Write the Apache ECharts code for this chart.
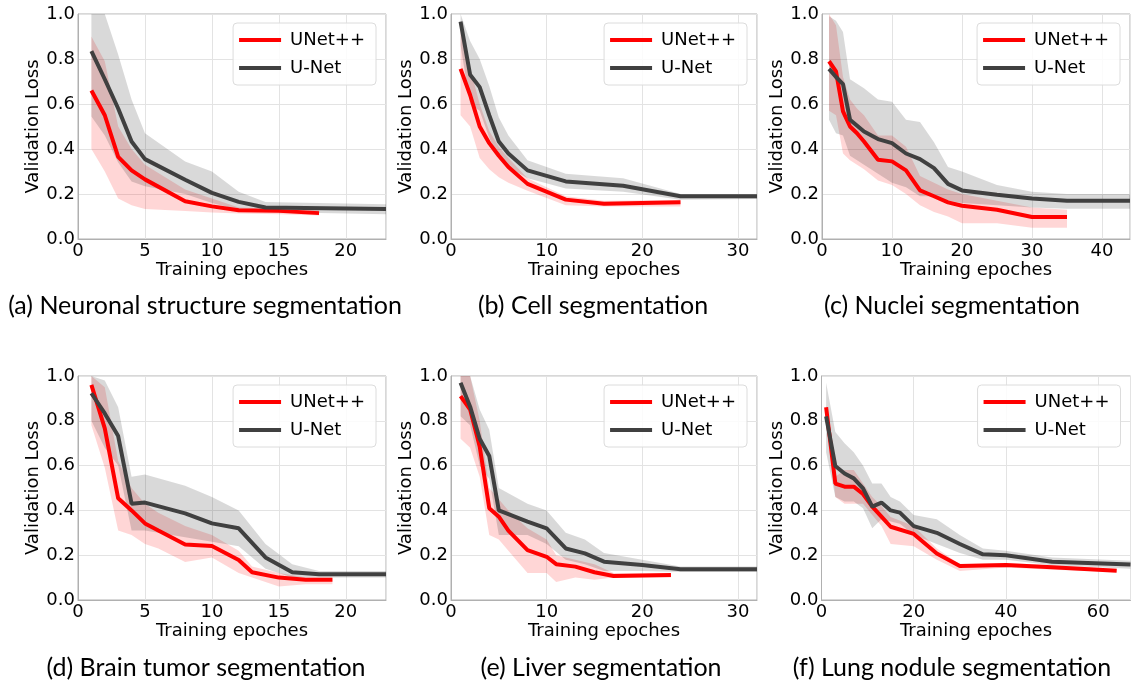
<!DOCTYPE html>
<html>
<head>
<meta charset="utf-8">
<script src="https://cdn.jsdelivr.net/npm/echarts@6/dist/echarts.min.js"></script>
<style>
  html, body { margin: 0; padding: 0; background: #fff; }
  #main { width: 1131px; height: 683px; }
</style>
</head>
<body>
<div id="main"></div>
<script>
// ---- data ----
// (a) Neuronal structure
const aPlusX  = [1, 2, 3, 4, 5, 8, 10, 12, 15, 18]
const aPlus   = [0.66, 0.55, 0.365, 0.305, 0.265, 0.168, 0.145, 0.128, 0.125, 0.115]
const aPlusLo = [0.40, 0.30, 0.18, 0.15, 0.133, 0.125, 0.118, 0.113, 0.11, 0.105]
const aPlusHi = [0.90, 0.79, 0.50, 0.40, 0.33, 0.22, 0.18, 0.14, 0.135, 0.13]
const aUX  = [1, 2, 3, 4, 5, 8, 10, 12, 14, 23]
const aU   = [0.835, 0.71, 0.58, 0.433, 0.355, 0.263, 0.205, 0.165, 0.14, 0.133]
const aULo = [0.545, 0.46, 0.34, 0.256, 0.235, 0.2, 0.16, 0.13, 0.12, 0.11]
const aUHi = [1.2, 1.0, 0.82, 0.62, 0.47, 0.345, 0.3, 0.21, 0.165, 0.155]

// (b) Cell
const bPlusX  = [1, 2, 3, 4, 5, 6, 8, 12, 16, 24]
const bPlus   = [0.756, 0.64, 0.50, 0.426, 0.37, 0.32, 0.245, 0.175, 0.157, 0.163]
const bPlusLo = [0.55, 0.50, 0.36, 0.31, 0.275, 0.25, 0.215, 0.15, 0.145, 0.145]
const bPlusHi = [0.93, 0.76, 0.60, 0.48, 0.41, 0.36, 0.27, 0.19, 0.17, 0.175]
const bUX  = [1, 2, 3, 4, 5, 6, 8, 12, 18, 24, 32]
const bU   = [0.966, 0.73, 0.675, 0.55, 0.433, 0.38, 0.305, 0.256, 0.237, 0.19, 0.19]
const bULo = [0.86, 0.6, 0.57, 0.45, 0.36, 0.32, 0.27, 0.225, 0.21, 0.175, 0.178]
const bUHi = [1.1, 0.88, 0.8, 0.68, 0.54, 0.46, 0.35, 0.29, 0.27, 0.2, 0.2]

// (c) Nuclei
const cPlusX  = [1, 2, 3, 4, 5, 6, 8, 10, 12, 14, 16, 18, 20, 25, 30, 35]
const cPlus   = [0.79, 0.745, 0.567, 0.5, 0.47, 0.433, 0.352, 0.345, 0.305, 0.216, 0.19, 0.163, 0.148, 0.13, 0.098, 0.098]
const cPlusLo = [0.57, 0.55, 0.38, 0.35, 0.33, 0.31, 0.26, 0.24, 0.2, 0.15, 0.12, 0.1, 0.07, 0.07, 0.05, 0.05]
const cPlusHi = [1.0, 0.95, 0.72, 0.62, 0.58, 0.55, 0.46, 0.46, 0.41, 0.28, 0.25, 0.22, 0.2, 0.17, 0.14, 0.13]
const cUX  = [1, 2, 3, 4, 6, 8, 10, 12, 14, 16, 18, 20, 25, 30, 35, 44]
const cU   = [0.756, 0.72, 0.688, 0.53, 0.478, 0.444, 0.426, 0.38, 0.355, 0.315, 0.245, 0.216, 0.197, 0.18, 0.17, 0.17]
const cULo = [0.53, 0.47, 0.46, 0.37, 0.33, 0.29, 0.25, 0.23, 0.19, 0.19, 0.17, 0.16, 0.15, 0.14, 0.135, 0.135]
const cUHi = [0.99, 0.97, 0.92, 0.71, 0.67, 0.62, 0.61, 0.53, 0.52, 0.43, 0.32, 0.3, 0.24, 0.21, 0.2, 0.2]

// (d) Brain tumor
const dPlusX  = [1, 2, 3, 4, 5, 6, 8, 10, 12, 13, 15, 17, 19]
const dPlus   = [0.96, 0.766, 0.454, 0.40, 0.342, 0.31, 0.248, 0.241, 0.179, 0.124, 0.10, 0.09, 0.09]
const dPlusLo = [0.78, 0.59, 0.31, 0.29, 0.25, 0.23, 0.17, 0.19, 0.12, 0.1, 0.06, 0.07, 0.07]
const dPlusHi = [1.05, 0.95, 0.62, 0.5, 0.43, 0.39, 0.33, 0.29, 0.22, 0.15, 0.12, 0.1, 0.1]
const dUX  = [1, 2, 3, 4, 5, 8, 10, 12, 14, 16, 18, 23]
const dU   = [0.923, 0.833, 0.732, 0.43, 0.435, 0.387, 0.342, 0.32, 0.19, 0.124, 0.115, 0.115]
const dULo = [0.8, 0.68, 0.6, 0.31, 0.31, 0.28, 0.26, 0.24, 0.14, 0.1, 0.1, 0.1]
const dUHi = [1.05, 0.98, 0.86, 0.55, 0.56, 0.51, 0.46, 0.4, 0.25, 0.16, 0.13, 0.13]

// (e) Liver
const ePlusX  = [1, 2, 3, 4, 5, 6, 8, 10, 11, 13, 15, 17, 23]
const ePlus   = [0.91, 0.85, 0.685, 0.41, 0.372, 0.31, 0.223, 0.193, 0.16, 0.149, 0.124, 0.107, 0.112]
const ePlusLo = [0.72, 0.68, 0.55, 0.29, 0.27, 0.22, 0.12, 0.12, 0.08, 0.1, 0.09, 0.1, 0.1]
const ePlusHi = [1.05, 1.0, 0.8, 0.5, 0.45, 0.4, 0.32, 0.27, 0.2, 0.18, 0.16, 0.12, 0.12]
const eUX  = [1, 2, 3, 4, 5, 8, 10, 12, 14, 16, 20, 24, 32]
const eU   = [0.97, 0.863, 0.72, 0.643, 0.4, 0.35, 0.32, 0.23, 0.208, 0.171, 0.156, 0.137, 0.137]
const eULo = [0.82, 0.78, 0.6, 0.54, 0.29, 0.29, 0.25, 0.18, 0.16, 0.13, 0.13, 0.125, 0.125]
const eUHi = [1.05, 1.0, 0.85, 0.76, 0.5, 0.43, 0.4, 0.3, 0.27, 0.21, 0.18, 0.15, 0.15]

// (f) Lung nodule
const fPlusX  = [1, 3, 5, 7, 9, 11, 13, 15, 20, 25, 30, 40, 50, 64]
const fPlus   = [0.86, 0.52, 0.506, 0.506, 0.473, 0.417, 0.372, 0.327, 0.295, 0.208, 0.152, 0.156, 0.146, 0.131]
const fPlusLo = [0.84, 0.46, 0.43, 0.43, 0.43, 0.38, 0.33, 0.25, 0.24, 0.18, 0.13, 0.145, 0.135, 0.125]
const fPlusHi = [0.87, 0.55, 0.58, 0.58, 0.52, 0.46, 0.42, 0.37, 0.33, 0.23, 0.16, 0.165, 0.155, 0.14]
const fUX  = [1, 3, 5, 7, 9, 11, 13, 15, 17, 20, 25, 30, 35, 40, 50, 67]
const fU   = [0.82, 0.598, 0.565, 0.543, 0.498, 0.417, 0.435, 0.40, 0.39, 0.33, 0.30, 0.25, 0.204, 0.2, 0.171, 0.158]
const fULo = [0.66, 0.46, 0.44, 0.44, 0.41, 0.32, 0.36, 0.35, 0.34, 0.29, 0.25, 0.21, 0.18, 0.18, 0.155, 0.14]
const fUHi = [0.97, 0.75, 0.70, 0.66, 0.6, 0.52, 0.52, 0.46, 0.44, 0.38, 0.36, 0.29, 0.23, 0.22, 0.19, 0.175]

const seriesNames = ['UNet++', 'U-Net']
const captions = [
  '(a) Neuronal structure segmentation',
  '(b) Cell segmentation',
  '(c) Nuclei segmentation',
  '(d) Brain tumor segmentation',
  '(e) Liver segmentation',
  '(f) Lung nodule segmentation'
]
const xMax = [23, 32, 44, 23, 32, 67]
const xStep = [5, 10, 10, 5, 10, 20]

// ---- layout ----
const boxes = [
  { left: 78, top: 14, width: 308, height: 225, cx: 205, cy: 306 },
  { left: 451, top: 14, width: 306, height: 225, cx: 593, cy: 306 },
  { left: 822, top: 14, width: 308, height: 225, cx: 952, cy: 306 },
  { left: 78, top: 376, width: 308, height: 224, cx: 206, cy: 668 },
  { left: 451, top: 376, width: 306, height: 224, cx: 601, cy: 668 },
  { left: 821.5, top: 376, width: 309, height: 224, cx: 952, cy: 668 }
]

const panels = [
  [aPlusX, aPlus, aPlusLo, aPlusHi, aUX, aU, aULo, aUHi],
  [bPlusX, bPlus, bPlusLo, bPlusHi, bUX, bU, bULo, bUHi],
  [cPlusX, cPlus, cPlusLo, cPlusHi, cUX, cU, cULo, cUHi],
  [dPlusX, dPlus, dPlusLo, dPlusHi, dUX, dU, dULo, dUHi],
  [ePlusX, ePlus, ePlusLo, ePlusHi, eUX, eU, eULo, eUHi],
  [fPlusX, fPlus, fPlusLo, fPlusHi, fUX, fU, fULo, fUHi]
]

const RED = '#ff0000'
const GRAY = '#404040'
const FONT = 'DejaVu Sans'

const zip = (xs, ys) => xs.map((x, i) => [x, ys[i]])

// shaded band (lo..hi) drawn as one polygon through the axes' scales
const bandSeries = (k, xs, lo, hi, color) => ({
  type: 'custom', xAxisIndex: k, yAxisIndex: k, silent: true, z: 1,
  data: xs.map((x, i) => [x, lo[i], hi[i]]),
  encode: { x: 0, y: [1, 2] },
  renderItem: function (params, api) {
    if (params.dataIndexInside !== 0) return
    const n = params.dataInsideLength
    const top = []
    const bot = []
    for (let i = 0; i < n; i++) {
      top.push(api.coord([api.value(0, i), api.value(2, i)]))
      bot.push(api.coord([api.value(0, i), api.value(1, i)]))
    }
    const pts = top.concat(bot.reverse())
    return {
      type: 'polygon',
      shape: { points: echarts.graphic.clipPointsByRect(pts, params.coordSys) },
      style: { fill: color }
    }
  }
})

const grids = []
const xAxes = []
const yAxes = []
const legends = []
const series = []
const graphics = []

boxes.forEach((b, k) => {
  grids.push({
    left: b.left, top: b.top, width: b.width, height: b.height,
    show: true, borderColor: '#b0b0b0', borderWidth: 1, backgroundColor: 'transparent'
  })
  xAxes.push({
    gridIndex: k, type: 'value', min: 0, max: xMax[k], interval: xStep[k],
    name: 'Training epoches', nameLocation: 'middle', nameGap: 21,
    nameTextStyle: { fontFamily: FONT, fontSize: 18, color: '#000' },
    axisLine: { show: true, onZero: false, lineStyle: { color: '#b0b0b0' } },
    axisTick: { show: false },
    axisLabel: { fontFamily: FONT, fontSize: 18, color: '#000', margin: 3, showMaxLabel: false },
    splitLine: { show: true, lineStyle: { color: '#e3e3e3', width: 1 } }
  })
  yAxes.push({
    gridIndex: k, type: 'value', min: 0, max: 1, interval: 0.2,
    name: 'Validation Loss', nameLocation: 'middle', nameGap: 35,
    nameTextStyle: { fontFamily: FONT, fontSize: 18, color: '#000' },
    axisLine: { show: true, lineStyle: { color: '#b0b0b0' } },
    axisTick: { show: false },
    axisLabel: { fontFamily: FONT, fontSize: 18, color: '#000', margin: 3, formatter: v => v.toFixed(1) },
    splitLine: { show: true, lineStyle: { color: '#e3e3e3', width: 1 } }
  })
  legends.push({
    data: seriesNames,
    orient: 'vertical',
    right: 1131 - (b.left + b.width) + 10,
    top: b.top + 9,
    icon: 'rect', itemWidth: 42, itemHeight: 4, itemGap: 10,
    padding: [8, 11, 8, 6],
    backgroundColor: 'rgba(255,255,255,0.85)',
    borderColor: '#dcdcdc', borderWidth: 1, borderRadius: 4,
    textStyle: { fontFamily: FONT, fontSize: 18, color: '#000', padding: [0, 0, 0, 4] },
    selectedMode: false
  })

  const [px, p, pLo, pHi, ux, u, uLo, uHi] = panels[k]
  series.push(bandSeries(k, px, pLo, pHi, 'rgba(255,0,0,0.16)'))
  series.push(bandSeries(k, ux, uLo, uHi, 'rgba(0,0,0,0.15)'))
  series.push({
    name: seriesNames[0], type: 'line', xAxisIndex: k, yAxisIndex: k,
    data: zip(px, p), symbol: 'none', color: RED,
    lineStyle: { color: RED, width: 4 }, z: 3
  })
  series.push({
    name: seriesNames[1], type: 'line', xAxisIndex: k, yAxisIndex: k,
    data: zip(ux, u), symbol: 'none', color: GRAY,
    lineStyle: { color: GRAY, width: 4 }, z: 4
  })

  graphics.push({
    type: 'text', x: b.cx, y: b.cy,
    style: {
      text: captions[k], fill: '#000', font: '25px Lato',
      align: 'center', verticalAlign: 'middle',
      textAlign: 'center', textVerticalAlign: 'middle'
    }
  })
})

const myChart = echarts.init(document.getElementById('main'), null, { renderer: 'canvas' })
myChart.setOption({
  backgroundColor: '#fff',
  animation: false,
  grid: grids,
  xAxis: xAxes,
  yAxis: yAxes,
  legend: legends,
  series: series,
  graphic: graphics
})
</script>
</body>
</html>
